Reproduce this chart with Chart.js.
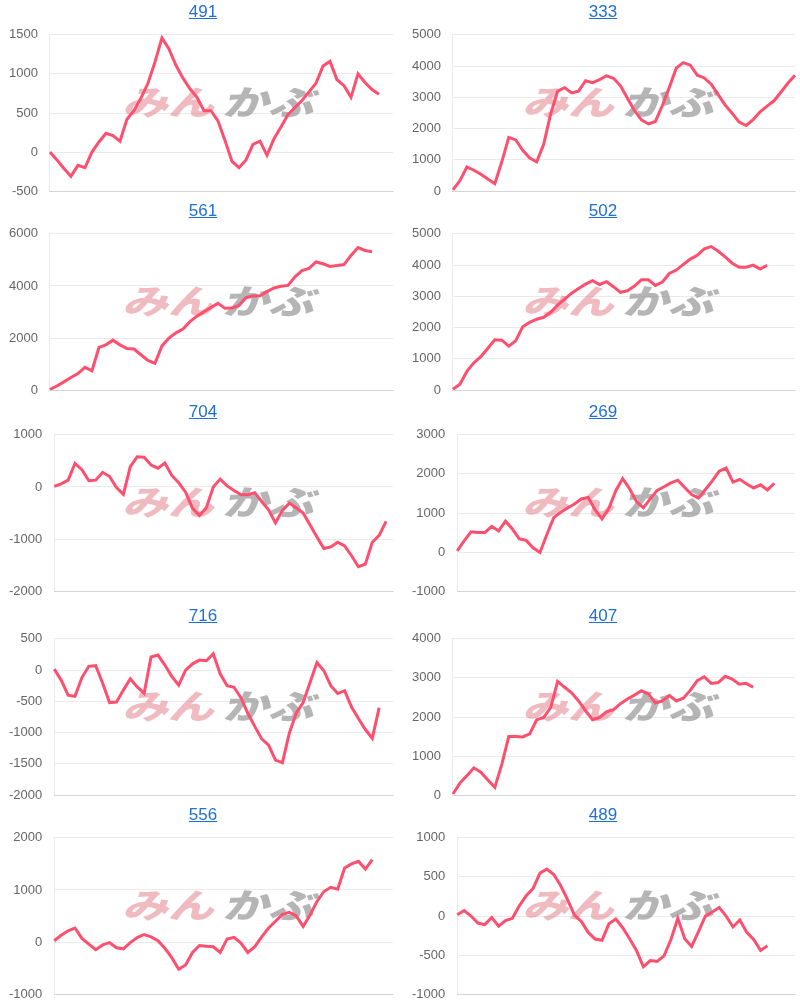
<!DOCTYPE html>
<html>
<head>
<meta charset="utf-8">
<script src="https://cdn.jsdelivr.net/npm/chart.js@4.4.1/dist/chart.umd.min.js"></script>
<style>
body { margin: 0; background: #fff; width: 800px; height: 1003px; position: relative; overflow: hidden; font-family: "Liberation Sans", Arial, sans-serif; }
.cell { position: absolute; width: 400px; height: 200px; }
.cell .ttl { position: absolute; top: 0; left: 3px; width: 400px; text-align: center; font-size: 17px; line-height: 24px; z-index: 2; }
.cell .ttl a { color: #1f6fd6; }
.cell canvas { position: absolute; left: 0; top: 15px; }
</style>
</head>
<body>
<script>
// タイトル(リンク)
const titles = ['491', '333', '561', '502', '704', '269', '716', '407', '556', '489'];

// y軸の範囲と目盛り
const yMin  = [-500,    0,    0,    0, -2000, -1000, -2000,    0, -1000, -1000];
const yMax  = [1500, 5000, 6000, 5000,  1000,  3000,   500, 4000,  2000,  1000];
const yStep = [ 500, 1000, 2000, 1000,  1000,  1000,   500, 1000,  1000,   500];

// 各グラフの推移
const s491 = [0,-100,-210,-310,-170,-200,0,130,240,210,140,420,530,690,880,1150,1460,1320,1110,945,810,700,530,530,400,150,-120,-200,-100,100,140,-40,170,320,480,570,660,770,880,1100,1160,925,850,700,1000,890,800,740];
const s333 = [40,340,775,670,540,390,240,940,1720,1640,1310,1060,940,1500,2470,3200,3310,3140,3200,3530,3470,3570,3690,3610,3370,2970,2580,2280,2150,2230,2740,3320,3940,4110,4030,3710,3620,3420,3090,2750,2490,2210,2100,2290,2540,2720,2890,3170,3460,3710];
const s561 = [30,160,320,490,640,880,740,1640,1740,1920,1740,1600,1580,1360,1140,1030,1700,2000,2200,2350,2630,2840,3010,3170,3330,3140,3150,3250,3550,3610,3620,3780,3920,3990,4020,4350,4590,4670,4920,4850,4750,4780,4820,5170,5470,5360,5310];
const s502 = [30,190,600,880,1070,1340,1610,1600,1410,1580,2030,2170,2270,2330,2490,2720,2910,3100,3250,3390,3500,3380,3470,3310,3130,3180,3330,3530,3530,3350,3460,3730,3840,4020,4190,4310,4520,4590,4440,4260,4060,3930,3930,4000,3870,3990];
const s704 = [10,60,130,450,330,120,130,280,200,-10,-140,390,580,570,420,360,460,220,80,-100,-410,-550,-400,0,150,20,-70,-150,-150,-110,-280,-440,-690,-450,-310,-400,-500,-730,-960,-1180,-1150,-1060,-1130,-1320,-1530,-1480,-1060,-930,-660];
const s269 = [30,290,520,500,500,660,540,790,590,340,300,110,-10,450,880,1020,1130,1230,1360,1400,1080,850,1120,1570,1880,1620,1290,1130,1360,1580,1670,1770,1840,1650,1470,1380,1600,1820,2070,2150,1790,1860,1740,1640,1720,1590,1760];
const s716 = [15,-160,-400,-420,-120,60,70,-210,-520,-510,-320,-140,-270,-370,210,240,80,-100,-240,0,100,160,150,260,-60,-250,-275,-440,-690,-900,-1100,-1200,-1440,-1480,-1010,-690,-520,-200,120,-10,-250,-375,-330,-590,-775,-950,-1090,-600];
const s407 = [30,310,500,700,590,390,200,790,1500,1500,1490,1570,1930,1990,2240,2910,2760,2620,2410,2160,1930,1990,2130,2190,2340,2460,2560,2670,2590,2360,2410,2550,2410,2480,2680,2930,3030,2860,2880,3040,2970,2840,2860,2760];
const s556 = [25,130,215,270,70,-40,-145,-55,-10,-110,-130,-10,85,145,100,25,-120,-300,-520,-440,-200,-65,-80,-90,-200,60,90,-20,-200,-90,100,270,400,530,570,500,300,520,780,970,1050,1015,1420,1500,1550,1400,1580];
const s489 = [15,70,0,-90,-110,-20,-130,-60,-30,130,260,350,550,600,530,390,210,10,-70,-210,-295,-310,-100,-40,-150,-290,-440,-650,-570,-580,-510,-300,-30,-290,-390,-200,0,50,110,0,-140,-50,-210,-300,-440,-380];

const series = [s491, s333, s561, s502, s704, s269, s716, s407, s556, s489];

// 横軸は50日分(ラベル非表示)
const labels = Array.from({length: 50}, (_, i) => i + 1);

const rowTop = [0, 199, 400, 604, 803];

// みんかぶ ロゴ(透かし)
const watermark = {
    id: 'watermark',
    beforeDatasetsDraw(chart) {
        const ctx = chart.ctx;
        ctx.save();
        ctx.font = '900 34px "Noto Sans CJK JP"';
        ctx.textAlign = 'center';
        ctx.textBaseline = 'middle';
        const parts = [['みん', 172, 'rgba(225,120,130,0.5)'], ['かぶ', 272, 'rgba(135,135,135,0.62)']];
        parts.forEach(([t, x, c]) => {
            ctx.save();
            ctx.translate(x, 87);
            ctx.transform(1, 0, -0.3, 1, 0, 0);
            ctx.scale(1.35, 1);
            ctx.fillStyle = c;
            ctx.fillText(t, 0, 0);
            ctx.restore();
        });
        ctx.restore();
    }
};

titles.forEach((title, i) => {
    const col = i % 2, row = Math.floor(i / 2);
    const cell = document.createElement('div');
    cell.className = 'cell';
    cell.style.left = (col * 400) + 'px';
    cell.style.top = rowTop[row] + 'px';
    cell.innerHTML = `<canvas width="400" height="196"></canvas><div class="ttl"><a href="#">${title}</a></div>`;
    document.body.appendChild(cell);

    new Chart(cell.querySelector('canvas'), {
        type: 'line',
        data: {
            labels: labels,
            datasets: [{
                data: series[i],
                borderColor: '#ff4f6e',
                borderWidth: 3,
                pointRadius: 0,
                tension: 0,
                fill: false
            }]
        },
        options: {
            responsive: false,
            animation: false,
            layout: { padding: { left: 6, right: col ? 5 : 7, top: 0, bottom: 0 } },
            plugins: { legend: { display: false }, tooltip: { enabled: false } },
            scales: {
                x: {
                    ticks: { display: false },
                    grid: { display: false },
                    border: { display: true, color: 'rgba(0,0,0,0.1)' }
                },
                y: {
                    min: yMin[i],
                    max: yMax[i],
                    afterFit: scale => { scale.width -= col ? 6 : 9; },
                    ticks: {
                        stepSize: yStep[i], color: '#666', padding: 12,
                        font: { size: 13, family: '"Liberation Sans", Arial' },
                        callback: v => String(v)
                    },
                    grid: { color: 'rgba(0,0,0,0.08)', drawTicks: false },
                    border: { display: true, color: 'rgba(0,0,0,0.08)' }
                }
            }
        },
        plugins: [watermark]
    });
});
</script>
</body>
</html>
